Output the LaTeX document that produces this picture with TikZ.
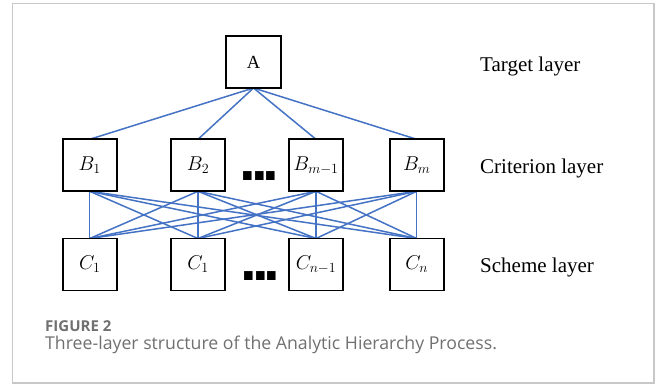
\documentclass[tikz,border=0pt]{standalone}
\usepackage{fix-cm}
\usepackage{fontspec}
\setmainfont{Liberation Serif}
\newfontfamily\capfont{Open Sans}
\newfontfamily\dotfont{Liberation Sans}
\definecolor{linkblue}{HTML}{4472C4}
\definecolor{capgray}{HTML}{707070}
\definecolor{framegray}{HTML}{C8C8C8}
\tikzset{
  box/.style={draw=black, line width=1.8pt, fill=white, minimum width=54pt,
    minimum height=52pt, inner sep=0pt, font=\fontsize{20}{20}\selectfont},
  link/.style={draw=linkblue, line width=1.5pt},
  layerlabel/.style={anchor=base west, inner sep=0pt, font=\fontsize{21}{21}\selectfont},
  dots/.style={anchor=base, inner sep=0pt, font=\dotfont\bfseries\fontsize{60}{60}\selectfont},
}
\begin{document}
\begin{tikzpicture}[x=1pt,y=-1pt]
  \useasboundingbox (0,0) rectangle (656,385);
  % outer frame
  \draw[framegray, line width=1.2pt] (12.5,3.5) rectangle (654,383);

  % links (drawn first, boxes cover their ends)
  \coordinate (pA) at (253.5,88);
  \foreach \x [count=\i] in {89.7,198,316,416.7} {
    \coordinate (bt\i) at (\x,139.3);
    \coordinate (bb\i) at (\x,191.3);
    \coordinate (ct\i) at (\x,238.5);
  }
  \foreach \i in {1,...,4} \draw[link] (pA) -- (bt\i);
  \foreach \i in {1,...,4} \foreach \j in {1,...,4} \draw[link] (bb\i) -- (ct\j);

  % target layer
  \node[box, minimum width=55pt, font=\fontsize{18.5}{18.5}\selectfont] (A) at (253.5,62) {A};

  % criterion layer
  \node[box] (B1) at (89.7,165.3) {$B_1$};
  \node[box] (B2) at (198,165.3) {$B_2$};
  \node[box] (B3) at (316,165.3) {$B_{m-1}$};
  \node[box] (B4) at (416.7,165.3) {$B_m$};
  \node[dots] (dB) at (259.5,181) {.\kern-5pt.\kern-5pt.};

  % scheme layer
  \node[box] (C1) at (89.7,264.5) {$C_1$};
  \node[box] (C2) at (198,264.5) {$C_1$};
  \node[box] (C3) at (316,264.5) {$C_{n-1}$};
  \node[box] (C4) at (416.7,264.5) {$C_n$};
  \node[dots] (dC) at (260.5,280.5) {.\kern-5pt.\kern-5pt.};

  % layer names
  \node[layerlabel] (lt) at (480,71.7) {Target layer};
  \node[layerlabel] (lc) at (480,173.3) {Criterion layer};
  \node[layerlabel] (ls) at (480,272.7) {Scheme layer};

  % caption
  \node[anchor=base west, inner sep=0pt, text=capgray,
    font=\capfont\bfseries\fontsize{15}{15}\selectfont] (fig) at (45,331) {FIGURE 2};
  \node[anchor=base west, inner sep=0pt, text=capgray,
    font=\capfont\fontsize{17.7}{17.7}\selectfont] (cap) at (45,349)
    {Three-layer structure of the Analytic Hierarchy Process.};
\end{tikzpicture}
\end{document}
